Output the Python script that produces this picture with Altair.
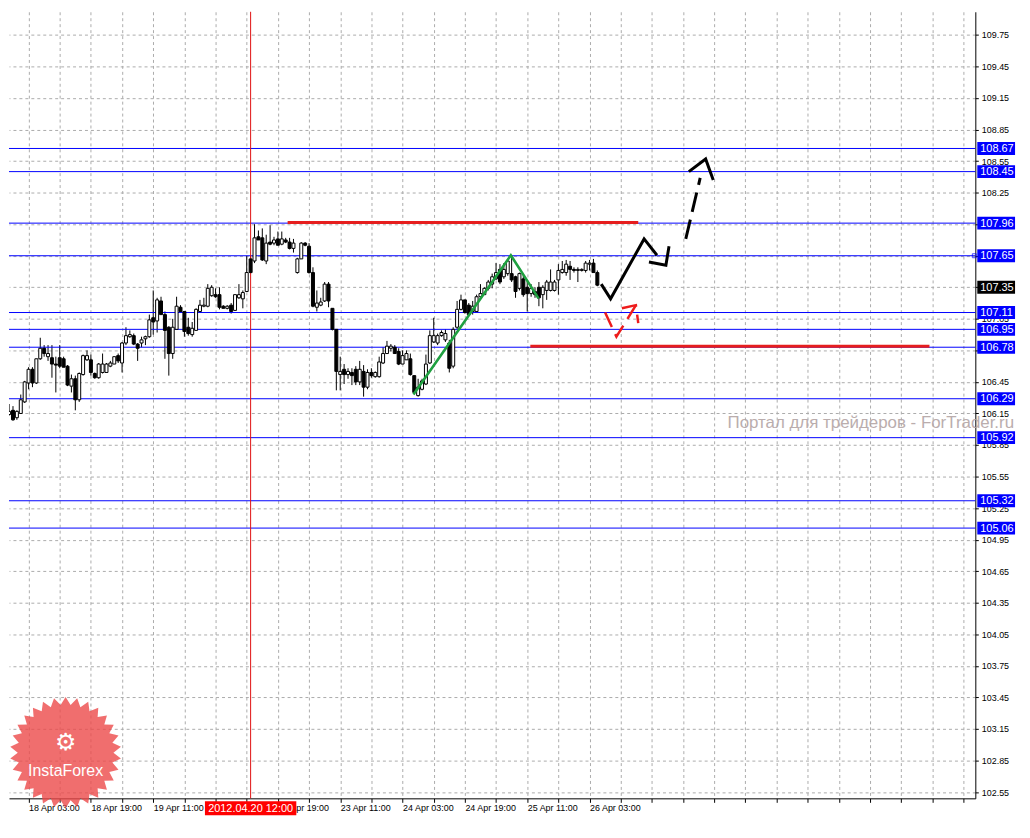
import json
import numpy as np
import pandas as pd
import altair as alt

# ---------------- data ----------------
bar_index = list(range(-5, 147))
opens = [106.14, 106.18, 106.11, 106.15, 106.26, 106.44, 106.57, 106.44, 106.67, 106.77,
         106.69, 106.68, 106.62, 106.68, 106.67, 106.60, 106.41, 106.48, 106.28, 106.52,
         106.66, 106.66, 106.53, 106.49, 106.54, 106.54, 106.60, 106.62, 106.70, 106.63,
         106.82, 106.88, 106.89, 106.81, 106.82, 106.86, 106.88, 107.06, 107.03, 107.22,
         107.09, 106.97, 106.72, 106.95, 107.16, 107.12, 106.97, 106.90, 106.94, 107.12,
         107.17, 107.17, 107.27, 107.28, 107.28, 107.17, 107.15, 107.18, 107.13, 107.25,
         107.24, 107.31, 107.62, 107.60, 107.83, 107.82, 107.60, 107.78, 107.77, 107.81,
         107.76, 107.80, 107.78, 107.72, 107.49, 107.62, 107.77, 107.74, 107.49, 107.16,
         107.18, 107.22, 107.38, 107.15, 106.95, 106.52, 106.57, 106.52, 106.54, 106.57,
         106.45, 106.55, 106.40, 106.54, 106.50, 106.50, 106.63, 106.72, 106.77, 106.78,
         106.74, 106.62, 106.66, 106.67, 106.51, 106.32, 106.38, 106.43, 106.63, 106.83,
         106.82, 106.89, 106.85, 106.82, 106.60, 106.97, 107.14, 107.23, 107.18, 107.12,
         107.12, 107.26, 107.28, 107.34, 107.38, 107.43, 107.52, 107.45, 107.48, 107.48,
         107.45, 107.34, 107.43, 107.35, 107.29, 107.28, 107.35, 107.28, 107.32, 107.32,
         107.32, 107.42, 107.49, 107.49, 107.55, 107.52, 107.51, 107.51, 107.51, 107.57,
         107.58, 107.49]
highs = [106.24, 106.22, 106.18, 106.33, 106.46, 106.59, 106.59, 106.67, 106.87, 106.80,
         106.80, 106.80, 106.69, 106.80, 106.69, 106.61, 106.52, 106.51, 106.54, 106.71,
         106.75, 106.71, 106.54, 106.63, 106.72, 106.63, 106.65, 106.69, 106.72, 106.83,
         106.97, 106.94, 106.91, 106.82, 106.88, 106.89, 107.09, 107.32, 107.25, 107.26,
         107.12, 106.98, 107.05, 107.26, 107.18, 107.12, 107.06, 107.02, 107.15, 107.23,
         107.25, 107.38, 107.37, 107.34, 107.35, 107.18, 107.18, 107.20, 107.28, 107.38,
         107.32, 107.65, 107.65, 107.95, 107.89, 107.91, 107.85, 107.94, 107.83, 107.88,
         107.88, 107.82, 107.82, 107.81, 107.63, 107.78, 107.78, 107.77, 107.54, 107.32,
         107.25, 107.40, 107.40, 107.15, 106.95, 106.69, 106.62, 106.58, 106.58, 106.60,
         106.65, 106.61, 106.57, 106.58, 106.55, 106.69, 106.78, 106.84, 106.81, 106.80,
         106.77, 106.75, 106.75, 106.72, 106.51, 106.48, 106.48, 106.71, 106.94, 107.06,
         106.91, 106.94, 106.95, 106.85, 106.97, 107.22, 107.28, 107.23, 107.20, 107.22,
         107.28, 107.38, 107.35, 107.42, 107.48, 107.58, 107.57, 107.58, 107.62, 107.65,
         107.46, 107.49, 107.46, 107.40, 107.38, 107.35, 107.40, 107.37, 107.42, 107.52,
         107.42, 107.57, 107.60, 107.61, 107.60, 107.54, 107.54, 107.53, 107.60, 107.61,
         107.62, 107.51]
lows = [106.13, 106.08, 106.09, 106.15, 106.25, 106.38, 106.40, 106.43, 106.66, 106.69,
        106.65, 106.49, 106.35, 106.58, 106.59, 106.41, 106.35, 106.18, 106.26, 106.51,
        106.65, 106.51, 106.48, 106.48, 106.53, 106.54, 106.59, 106.62, 106.63, 106.54,
        106.80, 106.87, 106.80, 106.65, 106.78, 106.80, 106.87, 106.90, 106.92, 107.09,
        106.67, 106.51, 106.67, 106.95, 107.12, 106.88, 106.89, 106.88, 106.94, 107.12,
        107.16, 107.16, 107.26, 107.25, 107.14, 107.15, 107.14, 107.10, 107.13, 107.24,
        107.15, 107.31, 107.48, 107.58, 107.80, 107.60, 107.57, 107.75, 107.75, 107.75,
        107.75, 107.77, 107.71, 107.68, 107.48, 107.62, 107.74, 107.48, 107.16, 107.12,
        107.17, 107.21, 107.16, 106.94, 106.37, 106.37, 106.43, 106.48, 106.42, 106.42,
        106.42, 106.31, 106.38, 106.49, 106.49, 106.49, 106.62, 106.72, 106.74, 106.72,
        106.61, 106.62, 106.66, 106.51, 106.34, 106.31, 106.37, 106.42, 106.62, 106.82,
        106.80, 106.88, 106.83, 106.54, 106.58, 106.95, 107.13, 107.10, 107.08, 107.09,
        107.12, 107.25, 107.28, 107.32, 107.34, 107.42, 107.38, 107.43, 107.46, 107.40,
        107.25, 107.32, 107.26, 107.12, 107.26, 107.25, 107.17, 107.15, 107.23, 107.31,
        107.31, 107.28, 107.48, 107.46, 107.42, 107.49, 107.40, 107.50, 107.49, 107.51,
        107.49, 107.36]
closes = [106.17, 106.09, 106.17, 106.28, 106.45, 106.57, 106.44, 106.67, 106.77, 106.72,
          106.72, 106.62, 106.61, 106.60, 106.59, 106.42, 106.48, 106.28, 106.53, 106.70,
          106.70, 106.54, 106.49, 106.62, 106.62, 106.62, 106.63, 106.69, 106.65, 106.82,
          106.89, 106.90, 106.81, 106.77, 106.85, 106.88, 107.04, 107.02, 107.23, 107.09,
          106.94, 106.72, 106.97, 107.17, 107.12, 106.93, 106.91, 106.96, 107.14, 107.18,
          107.18, 107.34, 107.35, 107.26, 107.16, 107.15, 107.17, 107.12, 107.28, 107.28,
          107.30, 107.49, 107.49, 107.82, 107.80, 107.61, 107.77, 107.76, 107.80, 107.75,
          107.81, 107.78, 107.72, 107.77, 107.62, 107.77, 107.75, 107.49, 107.17, 107.20,
          107.21, 107.38, 107.22, 106.95, 106.55, 106.55, 106.52, 106.55, 106.51, 106.45,
          106.57, 106.40, 106.54, 106.51, 106.54, 106.64, 106.72, 106.79, 106.79, 106.72,
          106.62, 106.70, 106.72, 106.52, 106.35, 106.40, 106.46, 106.62, 106.89, 106.89,
          106.89, 106.92, 106.91, 106.58, 106.95, 107.14, 107.23, 107.11, 107.09, 107.17,
          107.26, 107.29, 107.34, 107.40, 107.45, 107.49, 107.40, 107.52, 107.60, 107.42,
          107.31, 107.48, 107.28, 107.29, 107.34, 107.31, 107.25, 107.35, 107.40, 107.40,
          107.40, 107.51, 107.52, 107.57, 107.52, 107.51, 107.52, 107.52, 107.58, 107.58,
          107.49, 107.37]

level_prices = [108.67, 108.45, 107.96, 107.65, 107.11, 106.95, 106.78, 106.29, 105.92, 105.32, 105.06]
bid_price = 107.35
price_ticks = [109.75, 109.45, 109.15, 108.85, 108.55, 108.25, 107.95, 107.65, 107.35, 107.05,
               106.75, 106.45, 106.15, 105.85, 105.55, 105.25, 104.95, 104.65, 104.35, 104.05,
               103.75, 103.45, 103.15, 102.85, 102.55]
covered_price_labels = ["107.95", "107.65", "107.35", "106.75"]   # hidden under the level boxes
time_labels = ["18 Apr 03:00", "18 Apr 19:00", "19 Apr 11:00", "20 Apr 03:00", "20 Apr 19:00",
               "23 Apr 11:00", "24 Apr 03:00", "24 Apr 19:00", "25 Apr 11:00", "26 Apr 03:00"]
covered_time_label = 48      # 20 Apr 03:00 sits under the red time marker
label_step = 16
grid_step = 8
grid_values = list(range(0, 241, grid_step))

marker_bar = 57
marker_text = "2012.04.20 12:00"

# analysis drawings: (bar, price)
green_bar = [98.8, 123.8, 130.9]
green_price = [106.33, 107.655, 107.245]
black_solid = {"a": ([147.0, 149.4, 158.0, 161.3], [107.38, 107.24, 107.81, 107.655]),
               "b": ([159.25, 163.6, 164.4], [107.59, 107.56, 107.74]),
               "d": ([169.5, 173.8, 175.75], [108.45, 108.57, 108.37])}
black_dashed = {"c": ([168.7, 172.4], [107.81, 108.39])}
red_dashed = {"e": ([148.0, 150.9, 155.9], [107.11, 106.88, 107.18]),
              "f": ([152.3, 155.9, 156.5], [107.15, 107.18, 107.01])}
red_levels_start = [66.5, 128.8]
red_levels_end = [156.5, 231.25]
red_levels_price = [107.965, 106.79]

watermark = "Портал для трейдеров - ForTrader.ru"
logo_text = "InstaForex"

# ---------------- layout ----------------
W, H = 973, 792
x_dom = [-3.75, 241.75]
y_dom = [102.49, 109.97]
FONT = "Liberation Sans"

xs = alt.Scale(domain=x_dom, nice=False, zero=False)
ys = alt.Scale(domain=y_dom, nice=False, zero=False)


def X(field, axis=None):
    if axis is None:
        return alt.X(field, type="quantitative", scale=xs)
    return alt.X(field, type="quantitative", scale=xs, axis=axis)


def Y(field, axis=None):
    if axis is None:
        return alt.Y(field, type="quantitative", scale=ys)
    return alt.Y(field, type="quantitative", scale=ys, axis=axis)


label_expr = ("(datum.value % {s} == 0 && datum.value >= 0 && datum.value <= {m} && datum.value != {c}) ? "
              "{arr}[datum.value / {s}] : ''").format(s=label_step, m=label_step * (len(time_labels) - 1),
                                                      c=covered_time_label, arr=json.dumps(time_labels))
y_label_expr = "indexof({arr}, datum.label) >= 0 ? '' : datum.label".format(arr=json.dumps(covered_price_labels))

x_axis = alt.Axis(orient="bottom", values=grid_values, tickCount=200, labelExpr=label_expr, grid=True,
                  gridDash=[3, 3], gridColor="#ababab", gridWidth=1, tickSize=4, tickColor="black",
                  domainColor="black", labelAlign="left", labelBaseline="top", labelPadding=1,
                  labelFont=FONT, labelFontSize=9, labelColor="black", labelOverlap=False,
                  labelFlush=False, title=None)
y_axis = alt.Axis(orient="right", values=price_ticks, tickCount=200, format=".2f", labelExpr=y_label_expr,
                  grid=True, gridDash=[3, 3], gridColor="#ababab", gridWidth=1, tickSize=3,
                  tickColor="black", domainColor="black", labelFont=FONT, labelFontSize=9,
                  labelColor="black", labelPadding=3, labelOverlap=False, labelFlush=False, title=None)

candles = pd.DataFrame({"i": bar_index, "open": opens, "high": highs, "low": lows, "close": closes})
candles["up"] = candles["close"] >= candles["open"]
candles["body_lo"] = candles[["open", "close"]].min(axis=1)
candles["body_hi"] = candles[["open", "close"]].max(axis=1)

wicks = alt.Chart(candles).mark_rule(color="black", strokeWidth=1, clip=True).encode(
    x=X("i", x_axis), y=Y("low", y_axis), y2="high")
bodies = alt.Chart(candles).mark_bar(size=3, stroke="black", strokeWidth=1, clip=True).encode(
    x=X("i"), y=Y("body_lo"), y2="body_hi",
    fill=alt.condition("datum.up", alt.value("white"), alt.value("black")))

levels_df = pd.DataFrame({"p": level_prices, "lab": [f"{v:.2f}" for v in level_prices]})
blue_lines = alt.Chart(levels_df).mark_rule(color="#0000ff", strokeWidth=1).encode(y=Y("p"))

vline = alt.Chart(pd.DataFrame({"i": [marker_bar]})).mark_rule(color="#e01010", strokeWidth=1).encode(x=X("i"))

red_df = pd.DataFrame({"x": red_levels_start, "x2": red_levels_end, "p": red_levels_price})
red_levels = alt.Chart(red_df).mark_rule(color="#e61e1e", strokeWidth=3).encode(
    x=X("x"), x2="x2", y=Y("p"))


def paths_df(d):
    rows = []
    for k, (bx, py) in d.items():
        for n, (a, b) in enumerate(zip(bx, py)):
            rows.append({"path": k, "o": n, "x": a, "y": b})
    return pd.DataFrame(rows)


green = alt.Chart(paths_df({"g": (green_bar, green_price)})).mark_line(
    color="#1fa040", strokeWidth=2.6, clip=True).encode(x=X("x"), y=Y("y"), detail="path:N", order="o:Q")
blk = alt.Chart(paths_df(black_solid)).mark_line(color="black", strokeWidth=3, clip=True).encode(
    x=X("x"), y=Y("y"), detail="path:N", order="o:Q")
blk_d = alt.Chart(paths_df(black_dashed)).mark_line(color="black", strokeWidth=3, strokeDash=[20, 8],
                                                    clip=True).encode(
    x=X("x"), y=Y("y"), detail="path:N", order="o:Q")
red_d = alt.Chart(paths_df(red_dashed)).mark_line(color="#ee1c1c", strokeWidth=2.5, strokeDash=[16, 8],
                                                  clip=True).encode(
    x=X("x"), y=Y("y"), detail="path:N", order="o:Q")

# watermark
wm_y = (y_dom[1] - 106.01) / (y_dom[1] - y_dom[0]) * H
wm = alt.Chart(pd.DataFrame({"t": [watermark]})).mark_text(
    align="right", baseline="alphabetic", font=FONT, fontSize=17, color="#b3a5a5", opacity=0.9).encode(
    text="t:N", x=alt.value(1012), y=alt.value(wm_y))

# InstaForex badge
n_pts = 30
ang = np.arange(2 * n_pts) * np.pi / n_pts
rad = np.where(np.arange(2 * n_pts) % 2 == 0, 1.0, 0.86)
star_path = "M" + "L".join(f"{r * np.sin(a):.4f},{-r * np.cos(a):.4f}" for a, r in zip(ang, rad)) + "Z"
R = 56
badge_df = pd.DataFrame({"t": [logo_text]})
star = alt.Chart(badge_df).mark_point(shape=star_path, filled=True, size=(2 * R) ** 2, color="#ec4a4a",
                                      opacity=0.8, strokeWidth=0).encode(
    x=alt.value(57), y=alt.value(H - 46))
gear = alt.Chart(pd.DataFrame({"t": ["\u2699"]})).mark_text(
    font="DejaVu Sans", fontSize=24, color="white", baseline="middle", align="center").encode(
    text="t:N", x=alt.value(57), y=alt.value(H - 56))
logo = alt.Chart(badge_df).mark_text(font=FONT, fontSize=16, color="white", baseline="middle",
                                     align="center").encode(
    text="t:N", x=alt.value(57), y=alt.value(H - 28))

# right-side price labels
blue_boxes = alt.Chart(levels_df).mark_rule(color="#0000ff", strokeWidth=13).encode(
    x=alt.value(W + 2), x2=alt.value(W + 40), y=Y("p"))
blue_text = alt.Chart(levels_df).mark_text(align="left", baseline="middle", font=FONT, fontSize=11,
                                           color="white", dy=0.5).encode(
    x=alt.value(W + 5), y=Y("p"), text="lab:N")
bid_df = pd.DataFrame({"p": [bid_price], "lab": [f"{bid_price:.2f}"]})
bid_box = alt.Chart(bid_df).mark_rule(color="black", strokeWidth=13).encode(
    x=alt.value(W + 2), x2=alt.value(W + 40), y=Y("p"))
bid_text = alt.Chart(bid_df).mark_text(align="left", baseline="middle", font=FONT, fontSize=11,
                                       color="white", dy=0.5).encode(
    x=alt.value(W + 5), y=Y("p"), text="lab:N")
ask_mark = alt.Chart(pd.DataFrame({"p": [107.65]})).mark_point(
    shape="square", size=16, filled=False, color="#0000ff", strokeWidth=1).encode(
    x=alt.value(W - 1), y=Y("p"))

# time marker label on the x axis
box_w, box_h = 92, 14
rect_path = f"M-1,{-box_h / box_w:.4f}L1,{-box_h / box_w:.4f}L1,{box_h / box_w:.4f}L-1,{box_h / box_w:.4f}Z"
tm_df = pd.DataFrame({"i": [marker_bar], "t": [marker_text]})
tm_box = alt.Chart(tm_df).mark_point(shape=rect_path, filled=True, size=box_w ** 2, color="#ff0000",
                                     opacity=1, strokeWidth=0).encode(x=X("i"), y=alt.value(H + 10))
tm_text = alt.Chart(tm_df).mark_text(align="center", baseline="middle", font=FONT, fontSize=11,
                                     color="white").encode(x=X("i"), y=alt.value(H + 10.5), text="t:N")

chart = alt.layer(
    wicks, blue_lines, vline, bodies, red_levels, green, blk, blk_d, red_d,
    wm, star, gear, logo, blue_boxes, blue_text, bid_box, bid_text, ask_mark, tm_box, tm_text
).properties(width=W, height=H, padding=0, background="white").configure_view(stroke=None)

chart.save("out.html", embed_options={"renderer": "svg", "actions": False})
